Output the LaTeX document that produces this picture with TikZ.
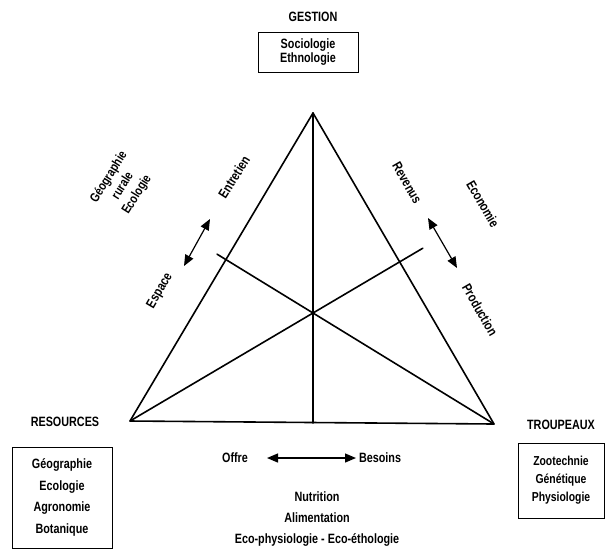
\documentclass[tikz,border=0pt]{standalone}
\usepackage{fontspec}
\setmainfont{Liberation Sans}[FakeStretch=0.8]
\usetikzlibrary{arrows.meta,calc}

\begin{document}
\begin{tikzpicture}[x=1pt,y=-1pt,
  edge/.style={line width=1.6pt, line cap=round, line join=round},
  title/.style={font=\bfseries\fontsize{13.5}{15}\selectfont, inner sep=0pt},
  lbl/.style={font=\bfseries\fontsize{13.5}{15}\selectfont, inner sep=0pt, align=center},
  discbox/.style={draw, line width=0.9pt, align=center, inner sep=0pt},
  dbl/.style={line width=1.2pt, {Triangle[length=11pt,width=9pt]}-{Triangle[length=11pt,width=9pt]}}
]
\useasboundingbox (0,0) rectangle (609,558);

% vertices, centre and the ends of the two transversals
\coordinate (A) at (313,113);
\coordinate (L) at (130,421);
\coordinate (R) at (494,424);
\coordinate (G) at (313,313);
\coordinate (M) at (313,423);
\coordinate (E1) at ($(L)!1.6!(G)$);
\coordinate (E2) at ($(R)!1.53!(G)$);

% triangle and its inner lines
\draw[edge] (A) -- (L) -- (R) -- cycle;
\draw[edge] (A) -- (M);
\draw[edge] (L) -- (E1);
\draw[edge] (R) -- (E2);

% GESTION pole
\node[title] (gestion) at (313,17) {GESTION};
\node[discbox, minimum width=100pt, minimum height=40pt,
      font=\bfseries\fontsize{13.5}{14.5}\selectfont] (gbox) at (308,52)
      {Sociologie\\Ethnologie};

% RESOURCES pole
\node[title] (resources) at (65,422) {RESOURCES};
\node[discbox, minimum width=100pt, minimum height=101pt,
      font=\bfseries\fontsize{13.5}{21.7}\selectfont] (rbox) at (62,497.5)
      {Géographie\\Ecologie\\Agronomie\\Botanique};

% TROUPEAUX pole
\node[title] (troupeaux) at (561,425) {TROUPEAUX};
\node[discbox, minimum width=86pt, minimum height=75pt,
      font=\bfseries\fontsize{13}{18}\selectfont] (tbox) at (561,480.5)
      {Zootechnie\\Génétique\\Physiologie};

% left side: Espace / Entretien
\node[lbl, rotate=58, font=\bfseries\fontsize{13}{16.5}\selectfont] (geo) at (123,186)
      {Géographie\\rurale\\Ecologie};
\node[lbl, rotate=58] (entretien) at (234,177) {Entretien};
\node[lbl, rotate=60] (espace) at (160,291) {Espace};
\coordinate (ea1) at (184,266);
\coordinate (ea2) at (210,219);
\draw[dbl] (ea1) -- (ea2);

% right side: Revenus / Production
\node[lbl, rotate=-60] (revenus) at (407,183) {Revenus};
\node[lbl, rotate=-60] (economie) at (483,204) {Economie};
\node[lbl, rotate=-60] (production) at (480,310) {Production};
\coordinate (pa1) at (428,218);
\coordinate (pa2) at (457,268);
\draw[dbl] (pa1) -- (pa2);

% bottom side: Offre / Besoins
\node[lbl] (offre) at (235,458) {Offre};
\node[lbl] (besoins) at (380,458) {Besoins};
\coordinate (oa1) at (267,458);
\coordinate (oa2) at (356,458);
\draw[dbl] (oa1) -- (oa2);
\node[lbl, font=\bfseries\fontsize{13.5}{21}\selectfont] (nutri) at (317,519)
      {Nutrition\\Alimentation\\Eco-physiologie - Eco-éthologie};
\end{tikzpicture}
\end{document}
